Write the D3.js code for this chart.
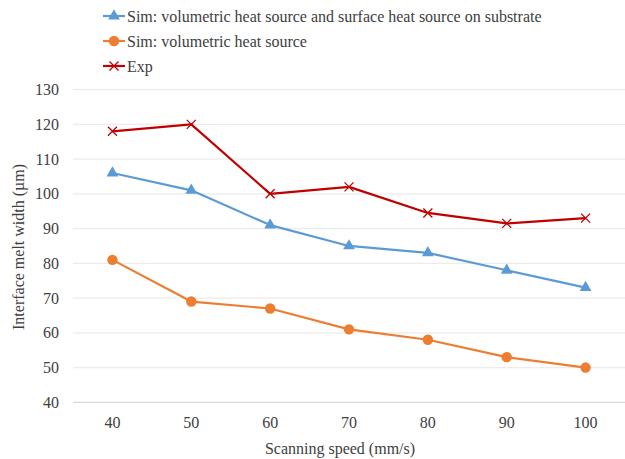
<!DOCTYPE html>
<html>
<head>
<meta charset="utf-8">
<script src="https://cdn.jsdelivr.net/npm/d3@7"></script>
<style>
  html, body { margin: 0; padding: 0; background: #fff; }
</style>
</head>
<body>
<svg id="chart" width="625" height="459"></svg>
<script>
// Scanning speed categories (mm/s)
const speeds = ["40", "50", "60", "70", "80", "90", "100"];
// Interface melt width (µm) per series
const simBoth = [106, 101, 91, 85, 83, 78, 73];
const simVol = [81, 69, 67, 61, 58, 53, 50];
const expData = [118, 120, 100, 102, 94.5, 91.5, 93];
const yTicks = [40, 50, 60, 70, 80, 90, 100, 110, 120, 130];

const seriesNames = [
  "Sim: volumetric heat source and surface heat source on substrate",
  "Sim: volumetric heat source",
  "Exp"
];
const series = [
  { name: seriesNames[0], values: simBoth, color: "#5B9BD5", marker: "triangle" },
  { name: seriesNames[1], values: simVol, color: "#ED7D31", marker: "circle" },
  { name: seriesNames[2], values: expData, color: "#C00000", marker: "cross" }
];

const svg = d3.select("#chart");
const textColor = "#404040";
const plotLeft = 73, plotRight = 625, plotTop = 89.6, plotBottom = 402.3;

const x = d3.scaleBand().domain(speeds).range([plotLeft, plotRight]);
const y = d3.scaleLinear().domain([40, 130]).range([plotBottom, plotTop]);
const cx = d => x(d) + x.bandwidth() / 2;

// Adds one serif label straight onto the svg
function addText(str, px, py, anchor, transform) {
  const t = svg.append("text")
    .attr("font-family", "Liberation Serif")
    .style("font-family", "'Liberation Serif', 'Times New Roman', serif")
    .attr("font-size", 16)
    .attr("fill", textColor)
    .attr("text-anchor", anchor)
    .attr("dy", "0.35em");
  if (transform) t.attr("transform", transform);
  else t.attr("x", px).attr("y", py);
  t.text(str);
  return t;
}

// Horizontal gridlines
svg.append("g").selectAll("line").data(yTicks).join("line")
  .attr("x1", plotLeft).attr("x2", plotRight)
  .attr("y1", d => y(d)).attr("y2", d => y(d))
  .attr("stroke", d => d === 40 ? "#d9d9d9" : "#ececec")
  .attr("stroke-width", 1.2);

// Y axis tick labels
yTicks.forEach(v => addText(String(v), 59, y(v), "end"));

// X axis tick labels
speeds.forEach(s => addText(s, cx(s), 422, "middle"));

// Axis titles
addText("Scanning speed (mm/s)", 340, 448, "middle");
addText("Interface melt width (µm)", 0, 0, "middle",
  `translate(18,${(plotTop + plotBottom) / 2 + 1}) rotate(-90)`);

function drawMarker(g, type, color, px, py) {
  if (type === "triangle") {
    g.append("path").attr("d", d3.symbol(d3.symbolTriangle, 60)())
      .attr("transform", `translate(${px},${py})`).attr("fill", color);
  } else if (type === "circle") {
    g.append("circle").attr("cx", px).attr("cy", py).attr("r", 5.2).attr("fill", color);
  } else {
    const s = 4.5;
    g.append("path")
      .attr("d", `M${px - s},${py - s}L${px + s},${py + s}M${px - s},${py + s}L${px + s},${py - s}`)
      .attr("stroke", color).attr("stroke-width", 1.3).attr("fill", "none");
  }
}

const line = d3.line().x((d, i) => cx(speeds[i])).y(d => y(d));

series.forEach(s => {
  const g = svg.append("g");
  g.append("path").datum(s.values).attr("d", line)
    .attr("fill", "none").attr("stroke", s.color).attr("stroke-width", 2.2)
    .attr("stroke-linejoin", "round");
  s.values.forEach((v, i) => drawMarker(g, s.marker, s.color, cx(speeds[i]), y(v)));
});

// Legend
const legend = svg.append("g");
const legendY = [16, 41, 66];
series.forEach((s, i) => {
  const ly = legendY[i];
  legend.append("line").attr("x1", 103).attr("x2", 125).attr("y1", ly).attr("y2", ly)
    .attr("stroke", s.color).attr("stroke-width", 2.2);
  drawMarker(legend, s.marker, s.color, 114, ly);
  addText(s.name, 127, ly, "start");
});
</script>
</body>
</html>
